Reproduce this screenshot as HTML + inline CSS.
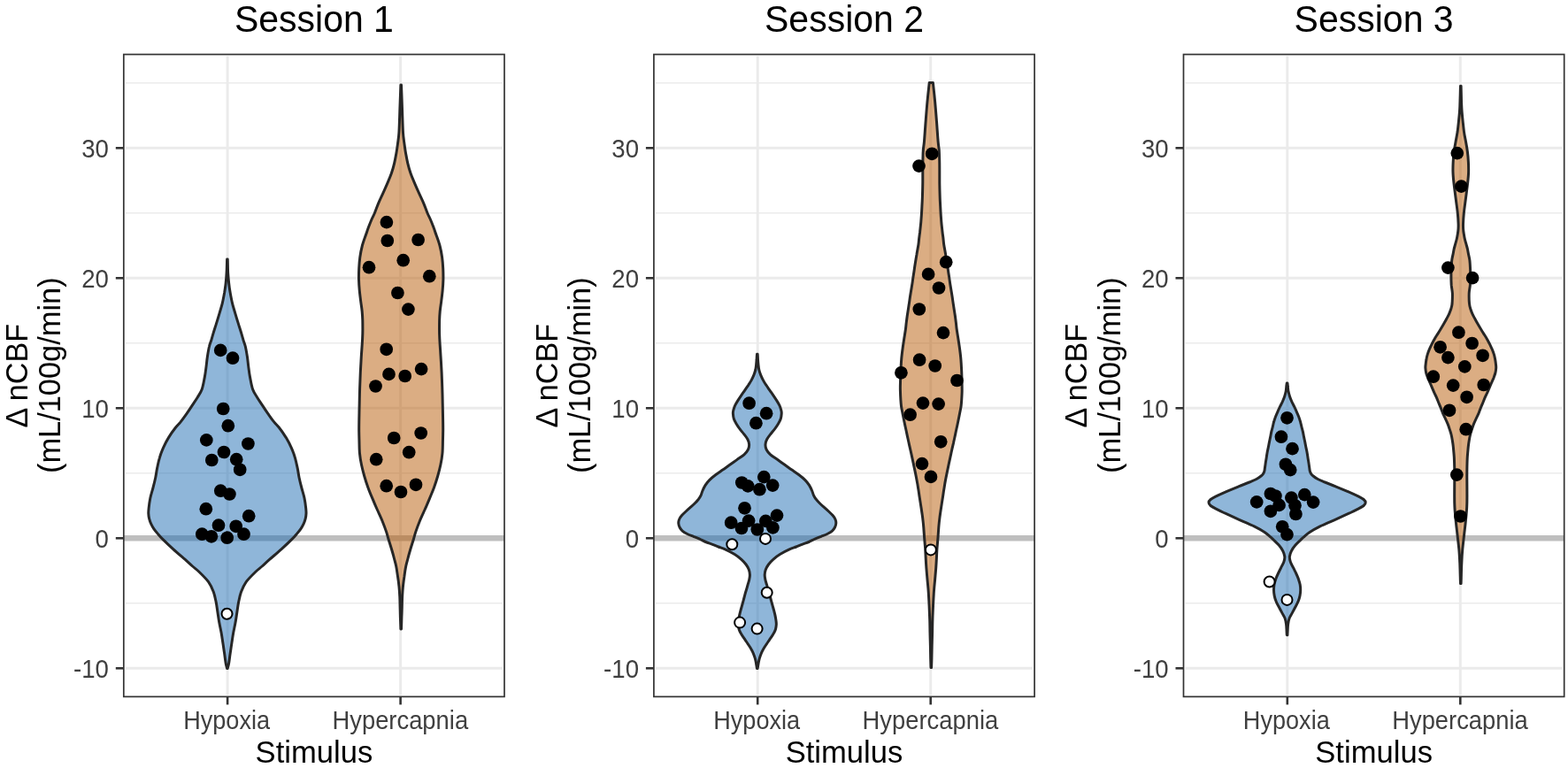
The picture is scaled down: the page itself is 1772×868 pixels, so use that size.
<!DOCTYPE html><html><head><meta charset="utf-8"><title>Violin plots</title>
<style>html,body{margin:0;padding:0;background:#fff;}svg{display:block;}text{font-family:"Liberation Sans",Arial,Helvetica,sans-serif;}</style></head><body>
<svg width="1772" height="868" viewBox="0 0 1772 868">
<rect x="0" y="0" width="1772" height="868" fill="#ffffff"/>
<line x1="141.8" y1="681.8" x2="568" y2="681.8" stroke="#ebebeb" stroke-width="1.6"/>
<line x1="141.8" y1="534.8" x2="568" y2="534.8" stroke="#ebebeb" stroke-width="1.6"/>
<line x1="141.8" y1="387.8" x2="568" y2="387.8" stroke="#ebebeb" stroke-width="1.6"/>
<line x1="141.8" y1="240.8" x2="568" y2="240.8" stroke="#ebebeb" stroke-width="1.6"/>
<line x1="141.8" y1="93.8" x2="568" y2="93.8" stroke="#ebebeb" stroke-width="1.6"/>
<line x1="141.8" y1="755.3" x2="568" y2="755.3" stroke="#ebebeb" stroke-width="3"/>
<line x1="141.8" y1="461.3" x2="568" y2="461.3" stroke="#ebebeb" stroke-width="3"/>
<line x1="141.8" y1="314.3" x2="568" y2="314.3" stroke="#ebebeb" stroke-width="3"/>
<line x1="141.8" y1="167.3" x2="568" y2="167.3" stroke="#ebebeb" stroke-width="3"/>
<line x1="257.1" y1="63.5" x2="257.1" y2="785.4" stroke="#ebebeb" stroke-width="3"/>
<line x1="452.6" y1="63.5" x2="452.6" y2="785.4" stroke="#ebebeb" stroke-width="3"/>
<line x1="139.8" y1="608.3" x2="570" y2="608.3" stroke="#bebebe" stroke-width="6.5"/>
<path d="M257.2,293.1C257.3,295.6 257.4,303.6 257.6,308C257.9,312.4 258.2,315.8 258.6,319.6C259,323.5 259.5,327.3 260.2,331.1C260.9,334.9 261.6,338.8 262.5,342.6C263.4,346.4 264.7,350.3 265.8,354.1C266.9,357.9 268.1,361.8 269.3,365.6C270.5,369.5 272,374.1 272.9,377.2C273.8,380.3 274.2,381.7 274.9,384.1C275.6,386.5 276.5,388.4 277.3,391.5C278,394.6 278.8,399.1 279.4,403C280,406.9 280.3,410.8 280.8,414.6C281.3,418.5 281.7,421.9 282.5,426.1C283.3,430.3 284.2,436.1 285.6,440C287,443.9 288.8,446.1 290.7,449.2C292.6,452.3 294.7,455.3 296.7,458.4C298.7,461.5 300.7,464.5 302.9,467.6C305.1,470.7 307.6,474.3 309.7,476.9C311.8,479.5 312.9,480.1 315.2,483C317.5,485.9 320.9,490.8 323.3,494.6C325.6,498.5 327.6,502.3 329.3,506.1C331,509.9 332.4,513.8 333.5,517.6C334.6,521.4 335.4,525.4 336.2,529.1C337,532.8 337.3,536.3 338.1,540C338.9,543.7 339.9,547.7 340.9,551.5C341.9,555.3 343.2,559.1 344,563C344.8,566.9 345.4,571.7 345.7,574.6C346,577.5 346.1,578.4 346,580.3C345.9,582.2 345.7,584.2 345.2,586.1C344.7,588 344.1,589.9 343.2,591.8C342.3,593.7 341.3,595.7 340,597.6C338.7,599.5 337,601.5 335.4,603.4C333.8,605.3 333.1,606.2 330.2,609.1C327.3,612 322.3,616.8 318.1,620.6C313.9,624.5 308.4,629 304.8,632.2C301.1,635.4 298.8,637.7 296.2,640C293.6,642.3 292.1,643.1 289.1,646C286.1,648.9 281,653.8 278.2,657.6C275.4,661.5 273.9,665.3 272.5,669.1C271.1,672.9 270.4,676.8 269.6,680.6C268.8,684.5 268.4,688.4 267.8,692.2C267.2,696.1 266.7,699.9 266,703.7C265.3,707.5 264.4,711.4 263.7,715.2C263,719 262.5,722.9 261.9,726.7C261.3,730.5 260.8,734.4 260.2,738.2C259.6,742.1 259.1,746.9 258.6,749.8C258.1,752.7 257.4,754.5 257.2,755.5L256.6,755.5C256.4,754.5 255.7,752.7 255.2,749.8C254.7,746.9 254.1,742.1 253.6,738.2C253,734.4 252.5,730.5 251.9,726.7C251.3,722.9 250.8,719 250.1,715.2C249.4,711.4 248.5,707.5 247.8,703.7C247.1,699.9 246.6,696.1 246,692.2C245.4,688.4 245,684.5 244.2,680.6C243.4,676.8 242.7,672.9 241.3,669.1C239.9,665.3 238.4,661.5 235.6,657.6C232.8,653.8 227.7,648.9 224.7,646C221.7,643.1 220.2,642.3 217.6,640C215,637.7 212.6,635.4 209,632.2C205.3,629 199.9,624.5 195.7,620.6C191.5,616.8 186.5,612 183.6,609.1C180.7,606.2 180,605.3 178.4,603.4C176.8,601.5 175.1,599.5 173.8,597.6C172.5,595.7 171.5,593.7 170.6,591.8C169.7,589.9 169.1,588 168.6,586.1C168.1,584.2 167.9,582.2 167.8,580.3C167.7,578.4 167.8,577.5 168.1,574.6C168.4,571.7 169,566.9 169.8,563C170.6,559.1 171.9,555.3 172.9,551.5C173.9,547.7 174.9,543.7 175.7,540C176.5,536.3 176.8,532.8 177.6,529.1C178.4,525.4 179.1,521.4 180.3,517.6C181.4,513.8 182.8,509.9 184.5,506.1C186.2,502.3 188.1,498.5 190.5,494.6C192.8,490.8 196.3,485.9 198.6,483C200.9,480.1 202,479.5 204.1,476.9C206.1,474.3 208.7,470.7 210.9,467.6C213.1,464.5 215.1,461.5 217.1,458.4C219.1,455.3 221.2,452.3 223.1,449.2C224.9,446.1 226.8,443.9 228.2,440C229.6,436.1 230.5,430.3 231.3,426.1C232.1,421.9 232.5,418.5 233,414.6C233.5,410.8 233.8,406.9 234.4,403C235,399.1 235.7,394.6 236.5,391.5C237.2,388.4 238.2,386.5 238.9,384.1C239.6,381.7 240,380.3 240.9,377.2C241.8,374.1 243.3,369.5 244.5,365.6C245.7,361.8 246.9,357.9 248,354.1C249.1,350.3 250.4,346.4 251.3,342.6C252.2,338.8 252.9,334.9 253.6,331.1C254.2,327.3 254.8,323.5 255.2,319.6C255.6,315.8 255.9,312.4 256.1,308C256.4,303.6 256.5,295.6 256.6,293.1Z" fill="#1f6db4" fill-opacity="0.5" stroke="#262626" stroke-width="3.0" stroke-linejoin="round"/>
<path d="M453.5,96.1C453.7,101.1 454.3,117.1 454.6,126.1C454.9,135.1 455.1,144.1 455.5,150C455.9,155.9 456.3,157.7 456.8,161.5C457.3,165.3 457.8,169.2 458.5,173C459.2,176.8 459.9,180.8 460.8,184.6C461.7,188.4 462.8,192.3 464.1,196.1C465.4,199.9 467.2,203.8 468.8,207.6C470.4,211.4 472.2,215.3 473.9,219.1C475.6,222.9 477.6,227 479.1,230.6C480.6,234.2 481.8,237.8 483,240.7C484.2,243.6 485.2,245.2 486.4,248C487.6,250.8 489,254.4 490.1,257.3C491.2,260.2 491.7,261.9 492.9,265.3C494.1,268.8 496,273.8 497.1,278C498.2,282.2 499,286.5 499.6,290.7C500.2,294.9 500.5,299.2 500.7,303.4C500.9,307.6 501,311.8 500.9,316C500.8,320.2 500.5,324.5 500.1,328.7C499.7,332.9 499.1,337.5 498.6,341.4C498.1,345.3 497.5,348.6 497.2,352C496.9,355.4 496.7,358.7 496.6,362C496.5,365.3 496.5,368.5 496.5,372C496.5,375.5 496.6,379.1 496.8,383C497,386.9 497.3,391.5 497.6,395.7C497.9,399.9 498.1,404.2 498.4,408.4C498.6,412.6 498.9,416.8 499.1,421C499.3,425.2 499.4,429.5 499.6,433.7C499.8,437.9 499.9,442.7 500,446.4C500.1,450.1 500.1,452.1 500.2,456C500.3,459.9 500.4,465.2 500.5,470C500.6,474.8 500.7,480 500.7,485C500.7,490 500.5,495.4 500.4,500C500.3,504.6 500.3,508.5 499.9,512.7C499.5,516.9 498.8,521.1 497.9,525.3C497,529.5 495.9,533.8 494.7,538C493.5,542.2 492.1,546.5 490.6,550.7C489.1,554.9 487.2,559.2 485.5,563.4C483.8,567.6 481.9,571.8 480.1,576C478.2,580.2 476.1,584.5 474.4,588.7C472.7,592.9 470.8,598 469.7,601.4C468.6,604.8 468.5,605.7 467.5,609C466.5,612.3 464.8,617.6 463.7,621.3C462.6,625 461.8,627.9 461,631C460.2,634.1 459.4,636.6 458.7,640C458,643.4 457.4,647.7 456.9,651.5C456.3,655.3 455.8,659.1 455.4,663C455,666.9 454.8,670.8 454.6,674.6C454.4,678.5 454.4,682.3 454.3,686.1C454.2,689.9 454.1,693.5 453.9,697.6C453.8,701.7 453.6,708.7 453.5,710.9L452.9,710.9C452.8,708.7 452.6,701.7 452.4,697.6C452.3,693.5 452.2,689.9 452.1,686.1C452,682.3 452,678.5 451.8,674.6C451.6,670.8 451.4,666.9 451,663C450.6,659.1 450.1,655.3 449.5,651.5C448.9,647.7 448.4,643.4 447.7,640C447,636.6 446.2,634.1 445.4,631C444.6,627.9 443.8,625 442.7,621.3C441.6,617.6 439.9,612.3 438.9,609C437.9,605.7 437.8,604.8 436.7,601.4C435.6,598 433.7,592.9 432,588.7C430.3,584.5 428.2,580.2 426.3,576C424.4,571.8 422.6,567.6 420.9,563.4C419.1,559.2 417.3,554.9 415.8,550.7C414.3,546.5 412.9,542.2 411.7,538C410.5,533.8 409.4,529.5 408.5,525.3C407.6,521.1 406.9,516.9 406.5,512.7C406.1,508.5 406.1,504.6 406,500C405.9,495.4 405.7,490 405.7,485C405.7,480 405.8,474.8 405.9,470C406,465.2 406.1,459.9 406.2,456C406.3,452.1 406.3,450.1 406.4,446.4C406.5,442.7 406.6,437.9 406.8,433.7C407,429.5 407.1,425.2 407.3,421C407.5,416.8 407.8,412.6 408,408.4C408.2,404.2 408.5,399.9 408.8,395.7C409.1,391.5 409.4,386.9 409.6,383C409.8,379.1 409.9,375.5 409.9,372C409.9,368.5 409.9,365.3 409.8,362C409.7,358.7 409.5,355.4 409.2,352C408.9,348.6 408.3,345.3 407.8,341.4C407.3,337.5 406.7,332.9 406.3,328.7C405.9,324.5 405.6,320.2 405.5,316C405.4,311.8 405.5,307.6 405.7,303.4C405.9,299.2 406.2,294.9 406.8,290.7C407.4,286.5 408.2,282.2 409.3,278C410.4,273.8 412.3,268.8 413.5,265.3C414.7,261.9 415.2,260.2 416.3,257.3C417.4,254.4 418.8,250.8 420,248C421.2,245.2 422.2,243.6 423.4,240.7C424.6,237.8 425.8,234.2 427.3,230.6C428.8,227 430.8,222.9 432.5,219.1C434.2,215.3 436,211.4 437.6,207.6C439.2,203.8 441,199.9 442.3,196.1C443.6,192.3 444.7,188.4 445.6,184.6C446.5,180.8 447.2,176.8 447.9,173C448.6,169.2 449.1,165.3 449.6,161.5C450.1,157.7 450.5,155.9 450.9,150C451.3,144.1 451.5,135.1 451.8,126.1C452.1,117.1 452.7,101.1 452.9,96.1Z" fill="#b85c08" fill-opacity="0.5" stroke="#262626" stroke-width="3.0" stroke-linejoin="round"/>
<circle cx="249.2" cy="395.9" r="7.35" fill="#000"/>
<circle cx="263" cy="404.7" r="7.35" fill="#000"/>
<circle cx="252.2" cy="462" r="7.35" fill="#000"/>
<circle cx="257.8" cy="481.2" r="7.35" fill="#000"/>
<circle cx="233.3" cy="497.4" r="7.35" fill="#000"/>
<circle cx="280.4" cy="501.5" r="7.35" fill="#000"/>
<circle cx="253" cy="511" r="7.35" fill="#000"/>
<circle cx="239.3" cy="520" r="7.35" fill="#000"/>
<circle cx="267.2" cy="519.2" r="7.35" fill="#000"/>
<circle cx="271.2" cy="530.8" r="7.35" fill="#000"/>
<circle cx="249.3" cy="554.7" r="7.35" fill="#000"/>
<circle cx="259.4" cy="558.5" r="7.35" fill="#000"/>
<circle cx="232.8" cy="575.2" r="7.35" fill="#000"/>
<circle cx="281.2" cy="583.2" r="7.35" fill="#000"/>
<circle cx="247" cy="593.7" r="7.35" fill="#000"/>
<circle cx="266.7" cy="594.8" r="7.35" fill="#000"/>
<circle cx="228.3" cy="603.7" r="7.35" fill="#000"/>
<circle cx="238.9" cy="606.3" r="7.35" fill="#000"/>
<circle cx="256.7" cy="607.7" r="7.35" fill="#000"/>
<circle cx="275.5" cy="603.7" r="7.35" fill="#000"/>
<circle cx="256.5" cy="693.8" r="6.0" fill="#fff" stroke="#000" stroke-width="2.0"/>
<circle cx="436.9" cy="251.1" r="7.35" fill="#000"/>
<circle cx="437.8" cy="272" r="7.35" fill="#000"/>
<circle cx="472.6" cy="271" r="7.35" fill="#000"/>
<circle cx="455.7" cy="294.2" r="7.35" fill="#000"/>
<circle cx="417" cy="302.2" r="7.35" fill="#000"/>
<circle cx="485.3" cy="312.2" r="7.35" fill="#000"/>
<circle cx="449.4" cy="331" r="7.35" fill="#000"/>
<circle cx="461.4" cy="349.6" r="7.35" fill="#000"/>
<circle cx="436.7" cy="394.8" r="7.35" fill="#000"/>
<circle cx="476.1" cy="417.1" r="7.35" fill="#000"/>
<circle cx="439.5" cy="422.9" r="7.35" fill="#000"/>
<circle cx="457.7" cy="425" r="7.35" fill="#000"/>
<circle cx="424.5" cy="436.5" r="7.35" fill="#000"/>
<circle cx="445.2" cy="495" r="7.35" fill="#000"/>
<circle cx="475.7" cy="489.5" r="7.35" fill="#000"/>
<circle cx="462.2" cy="511.2" r="7.35" fill="#000"/>
<circle cx="425.2" cy="519.2" r="7.35" fill="#000"/>
<circle cx="436.7" cy="549.2" r="7.35" fill="#000"/>
<circle cx="453" cy="556" r="7.35" fill="#000"/>
<circle cx="470" cy="547.8" r="7.35" fill="#000"/>
<rect x="139.8" y="61.5" width="430.2" height="725.9" fill="none" stroke="#333333" stroke-width="1.7"/>
<line x1="130.8" y1="755.3" x2="139.8" y2="755.3" stroke="#333333" stroke-width="2.6"/>
<text transform="translate(122.9,765.9) scale(1,1.045)" font-size="27.6" fill="#3f3f3f" text-anchor="end">-10</text>
<line x1="130.8" y1="608.3" x2="139.8" y2="608.3" stroke="#333333" stroke-width="2.6"/>
<text transform="translate(122.9,618.9) scale(1,1.045)" font-size="27.6" fill="#3f3f3f" text-anchor="end">0</text>
<line x1="130.8" y1="461.3" x2="139.8" y2="461.3" stroke="#333333" stroke-width="2.6"/>
<text transform="translate(122.9,471.9) scale(1,1.045)" font-size="27.6" fill="#3f3f3f" text-anchor="end">10</text>
<line x1="130.8" y1="314.3" x2="139.8" y2="314.3" stroke="#333333" stroke-width="2.6"/>
<text transform="translate(122.9,324.9) scale(1,1.045)" font-size="27.6" fill="#3f3f3f" text-anchor="end">20</text>
<line x1="130.8" y1="167.3" x2="139.8" y2="167.3" stroke="#333333" stroke-width="2.6"/>
<text transform="translate(122.9,177.9) scale(1,1.045)" font-size="27.6" fill="#3f3f3f" text-anchor="end">30</text>
<line x1="257.1" y1="787.4" x2="257.1" y2="796.4" stroke="#333333" stroke-width="2.6"/>
<text transform="translate(256.1,823.8) scale(1,1.045)" font-size="27.6" fill="#3f3f3f" text-anchor="middle" textLength="97.9" lengthAdjust="spacingAndGlyphs">Hypoxia</text>
<line x1="452.6" y1="787.4" x2="452.6" y2="796.4" stroke="#333333" stroke-width="2.6"/>
<text transform="translate(452.3,823.8) scale(1,1.045)" font-size="27.6" fill="#3f3f3f" text-anchor="middle" textLength="153.6" lengthAdjust="spacingAndGlyphs">Hypercapnia</text>
<text transform="translate(354.9,862) scale(1,1.045)" font-size="33.6" fill="#000" text-anchor="middle" textLength="132.7" lengthAdjust="spacingAndGlyphs">Stimulus</text>
<text transform="translate(30.7,425.9) rotate(-90) scale(1,1.045)" font-size="33.6" fill="#000" text-anchor="middle"><tspan x="1.2" y="0" textLength="117.8" lengthAdjust="spacingAndGlyphs">Δ nCBF</tspan><tspan x="1.7" y="35.8" textLength="221.7" lengthAdjust="spacingAndGlyphs">(mL/100g/min)</tspan></text>
<text transform="translate(354.9,35.6) scale(1,1.045)" font-size="41" fill="#000" text-anchor="middle">Session 1</text>
<line x1="740.9" y1="681.8" x2="1167.1" y2="681.8" stroke="#ebebeb" stroke-width="1.6"/>
<line x1="740.9" y1="534.8" x2="1167.1" y2="534.8" stroke="#ebebeb" stroke-width="1.6"/>
<line x1="740.9" y1="387.8" x2="1167.1" y2="387.8" stroke="#ebebeb" stroke-width="1.6"/>
<line x1="740.9" y1="240.8" x2="1167.1" y2="240.8" stroke="#ebebeb" stroke-width="1.6"/>
<line x1="740.9" y1="93.8" x2="1167.1" y2="93.8" stroke="#ebebeb" stroke-width="1.6"/>
<line x1="740.9" y1="755.3" x2="1167.1" y2="755.3" stroke="#ebebeb" stroke-width="3"/>
<line x1="740.9" y1="461.3" x2="1167.1" y2="461.3" stroke="#ebebeb" stroke-width="3"/>
<line x1="740.9" y1="314.3" x2="1167.1" y2="314.3" stroke="#ebebeb" stroke-width="3"/>
<line x1="740.9" y1="167.3" x2="1167.1" y2="167.3" stroke="#ebebeb" stroke-width="3"/>
<line x1="856.2" y1="63.5" x2="856.2" y2="785.4" stroke="#ebebeb" stroke-width="3"/>
<line x1="1051.7" y1="63.5" x2="1051.7" y2="785.4" stroke="#ebebeb" stroke-width="3"/>
<line x1="738.9" y1="608.3" x2="1169.1" y2="608.3" stroke="#bebebe" stroke-width="6.5"/>
<path d="M856.1,400.2C856.2,401.2 856.4,404.5 856.5,406.5C856.6,408.5 856.8,410.4 857,412.3C857.2,414.2 857.3,416.1 857.8,418C858.2,419.9 858.9,421.9 859.7,423.8C860.5,425.7 861.4,427.7 862.4,429.6C863.4,431.5 864.6,433.4 865.9,435.3C867.1,437.2 868.6,439.2 869.9,441.1C871.2,443 872.6,444.9 873.9,446.8C875.2,448.7 876.5,450.7 877.7,452.6C878.9,454.5 880.1,456.5 881,458.4C881.9,460.3 882.5,462.6 882.9,464.1C883.3,465.6 883.3,466.1 883.2,467.6C883.1,469.1 882.9,471.4 882.3,473.3C881.7,475.2 880.6,477.2 879.5,479.1C878.4,481 877,483 875.5,484.9C874,486.8 872.3,488.8 870.8,490.7C869.3,492.6 867.7,494.6 866.7,496.5C865.7,498.4 865.1,500.4 865,502.3C864.9,504.2 865.1,506.1 866.1,508C867,509.9 868.6,511.9 870.7,513.8C872.8,515.7 876.1,517.7 878.8,519.6C881.5,521.5 884.1,523.4 886.8,525.3C889.5,527.2 892.2,529.2 894.9,531.1C897.6,533 900.5,534.9 903,536.8C905.5,538.7 908,540.7 909.9,542.6C911.8,544.5 913.2,546.3 914.5,548.4C915.8,550.5 917,553.1 917.8,555C918.6,556.9 918.7,558.1 919.4,559.6C920.1,561.1 921,562.7 922.2,564.2C923.3,565.7 924.8,567.3 926.3,568.8C927.8,570.3 929.7,571.9 931.4,573.4C933.1,574.9 934.9,576.5 936.5,578C938.1,579.5 939.8,581.1 941.1,582.6C942.4,584.1 943.5,585.8 944.1,587.3C944.7,588.8 944.9,590 944.8,591.5C944.7,593 944.2,594.6 943.5,596C942.8,597.4 941.8,598.9 940.4,600.1C939,601.4 937,602.5 934.9,603.5C932.8,604.5 930.3,605.4 928,606.3C925.7,607.2 923.3,608.1 921,609.1C918.7,610.1 916.5,611.5 914.1,612.5C911.6,613.5 908.7,614.4 906.3,615.3C903.9,616.2 902.2,617.1 899.8,618C897.4,618.9 895.2,619.4 892.1,620.8C889,622.2 884.5,624.6 881.4,626.5C878.3,628.4 875.8,630.4 873.7,632.3C871.5,634.2 869.9,636.1 868.5,638C867.1,639.9 866,641.9 865.3,643.8C864.6,645.7 864.3,647.7 864.2,649.6C864.1,651.5 864.5,653.4 864.9,655.3C865.3,657.2 866,659.2 866.6,661.1C867.1,663 867.6,664.9 868.2,666.8C868.8,668.7 869.4,670.7 869.9,672.6C870.4,674.5 870.9,676.5 871.4,678.4C871.9,680.3 872.5,682.2 873,684.1C873.5,686 874.1,688 874.6,689.9C875.1,691.8 875.6,693.7 876,695.6C876.4,697.5 876.8,699.7 877,701.4C877.2,703.1 877.4,704.4 877.3,706C877.2,707.6 876.9,709.6 876.5,711.1C876.1,712.6 875.4,713.9 874.7,715.2C874,716.6 873.2,717.9 872.3,719.2C871.4,720.5 870.4,721.9 869.5,723.2C868.6,724.6 867.6,725.9 866.7,727.3C865.8,728.6 864.9,730 864.1,731.3C863.3,732.6 862.5,733.9 861.8,735.3C861.1,736.6 860.4,738 859.9,739.4C859.4,740.8 858.9,742.1 858.5,743.4C858.1,744.7 857.8,746 857.5,747.4C857.2,748.8 857,750.1 856.8,751.5C856.6,752.9 856.2,754.8 856.1,755.5L855.5,755.5C855.4,754.8 855,752.9 854.8,751.5C854.6,750.1 854.4,748.8 854.1,747.4C853.8,746 853.5,744.7 853.1,743.4C852.7,742.1 852.2,740.8 851.7,739.4C851.1,738 850.5,736.6 849.8,735.3C849.1,733.9 848.3,732.6 847.5,731.3C846.7,730 845.8,728.6 844.9,727.3C844,725.9 843,724.6 842.1,723.2C841.2,721.9 840.2,720.5 839.3,719.2C838.4,717.9 837.6,716.6 836.9,715.2C836.2,713.9 835.5,712.6 835.1,711.1C834.7,709.6 834.4,707.6 834.3,706C834.2,704.4 834.4,703.1 834.6,701.4C834.8,699.7 835.2,697.5 835.6,695.6C836,693.7 836.5,691.8 837,689.9C837.5,688 838.1,686 838.6,684.1C839.1,682.2 839.7,680.3 840.2,678.4C840.7,676.5 841.2,674.5 841.7,672.6C842.2,670.7 842.8,668.7 843.4,666.8C844,664.9 844.5,663 845,661.1C845.5,659.2 846.3,657.2 846.7,655.3C847.1,653.4 847.5,651.5 847.4,649.6C847.3,647.7 847,645.7 846.3,643.8C845.6,641.9 844.5,639.9 843.1,638C841.7,636.1 840,634.2 837.9,632.3C835.8,630.4 833.3,628.4 830.2,626.5C827.1,624.6 822.6,622.2 819.5,620.8C816.4,619.4 814.2,618.9 811.8,618C809.4,617.1 807.7,616.2 805.3,615.3C802.9,614.4 800,613.5 797.5,612.5C795,611.5 792.9,610.1 790.6,609.1C788.3,608.1 785.9,607.2 783.6,606.3C781.3,605.4 778.8,604.5 776.7,603.5C774.6,602.5 772.6,601.4 771.2,600.1C769.8,598.9 768.8,597.4 768.1,596C767.4,594.6 766.9,593 766.8,591.5C766.7,590 766.9,588.8 767.5,587.3C768.1,585.8 769.2,584.1 770.5,582.6C771.8,581.1 773.5,579.5 775.1,578C776.7,576.5 778.5,574.9 780.2,573.4C781.9,571.9 783.8,570.3 785.3,568.8C786.8,567.3 788.2,565.7 789.4,564.2C790.5,562.7 791.5,561.1 792.2,559.6C792.9,558.1 793,556.9 793.8,555C794.6,553.1 795.8,550.5 797.1,548.4C798.4,546.3 799.8,544.5 801.7,542.6C803.6,540.7 806.1,538.7 808.6,536.8C811.1,534.9 814,533 816.7,531.1C819.4,529.2 822.1,527.2 824.8,525.3C827.5,523.4 830.1,521.5 832.8,519.6C835.5,517.7 838.8,515.7 840.9,513.8C843,511.9 844.5,509.9 845.5,508C846.5,506.1 846.7,504.2 846.6,502.3C846.5,500.4 845.9,498.4 844.9,496.5C843.9,494.6 842.3,492.6 840.8,490.7C839.3,488.8 837.5,486.8 836.1,484.9C834.6,483 833.2,481 832.1,479.1C831,477.2 829.9,475.2 829.3,473.3C828.7,471.4 828.5,469.1 828.4,467.6C828.3,466.1 828.3,465.6 828.7,464.1C829.1,462.6 829.7,460.3 830.6,458.4C831.5,456.5 832.7,454.5 833.9,452.6C835.1,450.7 836.4,448.7 837.7,446.8C839,444.9 840.4,443 841.7,441.1C843,439.2 844.4,437.2 845.7,435.3C846.9,433.4 848.2,431.5 849.2,429.6C850.2,427.7 851.1,425.7 851.9,423.8C852.7,421.9 853.3,419.9 853.8,418C854.2,416.1 854.4,414.2 854.6,412.3C854.8,410.4 854.9,408.5 855.1,406.5C855.2,404.5 855.4,401.2 855.5,400.2Z" fill="#1f6db4" fill-opacity="0.5" stroke="#262626" stroke-width="3.0" stroke-linejoin="round"/>
<path d="M1054.4,93.6C1054.8,97.1 1055.9,107.3 1056.6,114.6C1057.3,121.9 1057.9,129.9 1058.5,137.6C1059.1,145.3 1059.7,155.2 1060.2,160.6C1060.7,166 1061,166.5 1061.3,170C1061.5,173.5 1061.6,177.7 1061.7,181.5C1061.8,185.3 1061.8,189.2 1061.8,193C1061.8,196.8 1061.8,200.8 1061.8,204.6C1061.8,208.4 1061.9,212.3 1062,216.1C1062.1,219.9 1062.2,223.8 1062.4,227.6C1062.6,231.4 1062.8,235.3 1063,239.1C1063.2,242.9 1063.5,246.8 1063.8,250.6C1064.1,254.4 1064.7,259.1 1065,262.2C1065.3,265.3 1065.6,266.6 1065.9,269C1066.2,271.4 1066.2,273.3 1066.7,276.5C1067.2,279.7 1068.1,284.1 1068.7,288C1069.3,291.9 1070,295.8 1070.6,299.6C1071.2,303.5 1071.7,307.3 1072.3,311.1C1072.9,314.9 1073.4,318.8 1074,322.6C1074.6,326.4 1075.3,330.3 1075.9,334.1C1076.5,337.9 1077,341.8 1077.6,345.6C1078.2,349.5 1078.9,354.1 1079.4,357.2C1079.8,360.3 1080,361.7 1080.3,364.1C1080.6,366.5 1080.7,368.4 1081.1,371.5C1081.5,374.6 1082.3,379.1 1082.9,383C1083.5,386.9 1084.1,390.8 1084.6,394.6C1085.1,398.5 1085.6,402.3 1085.9,406.1C1086.2,409.9 1086.4,413.8 1086.6,417.6C1086.8,421.4 1086.9,425.3 1087,429.1C1087.1,432.9 1087.2,436.8 1087.2,440.6C1087.2,444.5 1086.9,449.1 1086.7,452.2C1086.5,455.3 1086.4,456.6 1086.1,459C1085.8,461.4 1085.3,463.3 1084.7,466.5C1084.1,469.7 1083.2,474.1 1082.4,478C1081.6,481.9 1080.7,485.8 1079.9,489.6C1079.1,493.5 1078.2,497.3 1077.4,501.1C1076.5,504.9 1075.6,508.8 1074.8,512.6C1074,516.4 1073.1,520.3 1072.3,524.1C1071.5,527.9 1070.7,531.8 1069.9,535.6C1069.1,539.5 1068.2,544.1 1067.7,547.2C1067.2,550.3 1067,551.7 1066.6,554.1C1066.2,556.5 1066,558.4 1065.5,561.5C1065,564.6 1064.3,569.1 1063.7,573C1063.1,576.9 1062.5,580.8 1062,584.6C1061.5,588.5 1061.1,592.3 1060.8,596.1C1060.5,599.9 1060.3,603.8 1060,607.6C1059.7,611.4 1059.3,615.3 1059,619.1C1058.7,622.9 1058.6,626.8 1058.4,630.6C1058.2,634.5 1058,638.1 1057.7,642.2C1057.4,646.3 1057,650.4 1056.6,655C1056.2,659.6 1055.6,665 1055.3,670C1055,675 1054.7,679.9 1054.5,684.9C1054.3,689.9 1054,694.9 1053.9,699.9C1053.7,704.9 1053.7,709.9 1053.6,714.9C1053.5,719.9 1053.3,724.8 1053.2,729.8C1053.1,734.8 1053,740.7 1052.9,744.8C1052.8,748.9 1052.6,752.9 1052.6,754.5L1052,754.5C1052,752.9 1051.8,748.9 1051.7,744.8C1051.6,740.7 1051.5,734.8 1051.4,729.8C1051.3,724.8 1051.1,719.9 1051,714.9C1050.9,709.9 1050.9,704.9 1050.7,699.9C1050.5,694.9 1050.3,689.9 1050.1,684.9C1049.9,679.9 1049.6,675 1049.3,670C1049,665 1048.4,659.6 1048,655C1047.6,650.4 1047.2,646.3 1046.9,642.2C1046.6,638.1 1046.4,634.5 1046.2,630.6C1046,626.8 1045.9,622.9 1045.6,619.1C1045.3,615.3 1044.9,611.4 1044.6,607.6C1044.3,603.8 1044.1,599.9 1043.8,596.1C1043.5,592.3 1043.1,588.5 1042.6,584.6C1042.1,580.8 1041.5,576.9 1040.9,573C1040.3,569.1 1039.6,564.6 1039.1,561.5C1038.6,558.4 1038.4,556.5 1038,554.1C1037.6,551.7 1037.4,550.3 1036.9,547.2C1036.3,544.1 1035.5,539.5 1034.7,535.6C1033.9,531.8 1033.1,527.9 1032.3,524.1C1031.5,520.3 1030.6,516.4 1029.8,512.6C1029,508.8 1028,504.9 1027.2,501.1C1026.4,497.3 1025.5,493.5 1024.7,489.6C1023.9,485.8 1023,481.9 1022.2,478C1021.4,474.1 1020.5,469.7 1019.9,466.5C1019.3,463.3 1018.8,461.4 1018.5,459C1018.2,456.6 1018.1,455.3 1017.9,452.2C1017.7,449.1 1017.5,444.5 1017.4,440.6C1017.3,436.8 1017.5,432.9 1017.6,429.1C1017.7,425.3 1017.8,421.4 1018,417.6C1018.2,413.8 1018.4,409.9 1018.7,406.1C1019,402.3 1019.5,398.5 1020,394.6C1020.5,390.8 1021.1,386.9 1021.7,383C1022.3,379.1 1023.1,374.6 1023.5,371.5C1023.9,368.4 1024,366.5 1024.3,364.1C1024.6,361.7 1024.8,360.3 1025.2,357.2C1025.7,354.1 1026.4,349.5 1027,345.6C1027.6,341.8 1028.1,337.9 1028.7,334.1C1029.3,330.3 1030,326.4 1030.6,322.6C1031.2,318.8 1031.7,314.9 1032.3,311.1C1032.9,307.3 1033.4,303.5 1034,299.6C1034.6,295.8 1035.2,291.9 1035.9,288C1036.5,284.1 1037.4,279.7 1037.9,276.5C1038.4,273.3 1038.4,271.4 1038.7,269C1039,266.6 1039.2,265.3 1039.6,262.2C1039.9,259.1 1040.5,254.4 1040.8,250.6C1041.1,246.8 1041.4,242.9 1041.6,239.1C1041.8,235.3 1042,231.4 1042.2,227.6C1042.4,223.8 1042.5,219.9 1042.6,216.1C1042.7,212.3 1042.8,208.4 1042.8,204.6C1042.8,200.8 1042.8,196.8 1042.8,193C1042.8,189.2 1042.8,185.3 1042.9,181.5C1043,177.7 1043,173.5 1043.3,170C1043.5,166.5 1043.9,166 1044.4,160.6C1044.9,155.2 1045.5,145.3 1046.1,137.6C1046.7,129.9 1047.3,121.9 1048,114.6C1048.7,107.3 1049.8,97.1 1050.2,93.6Z" fill="#b85c08" fill-opacity="0.5" stroke="#262626" stroke-width="3.0" stroke-linejoin="round"/>
<circle cx="846.6" cy="455.7" r="7.35" fill="#000"/>
<circle cx="866.1" cy="467.2" r="7.35" fill="#000"/>
<circle cx="854.4" cy="478.2" r="7.35" fill="#000"/>
<circle cx="838.3" cy="545.5" r="7.35" fill="#000"/>
<circle cx="845.2" cy="549.4" r="7.35" fill="#000"/>
<circle cx="863.3" cy="539.1" r="7.35" fill="#000"/>
<circle cx="873.2" cy="548.6" r="7.35" fill="#000"/>
<circle cx="858.4" cy="553.2" r="7.35" fill="#000"/>
<circle cx="841.5" cy="574.3" r="7.35" fill="#000"/>
<circle cx="878" cy="582.6" r="7.35" fill="#000"/>
<circle cx="826.2" cy="590.7" r="7.35" fill="#000"/>
<circle cx="846.1" cy="588.6" r="7.35" fill="#000"/>
<circle cx="865.3" cy="588.9" r="7.35" fill="#000"/>
<circle cx="838" cy="597" r="7.35" fill="#000"/>
<circle cx="855.8" cy="598.5" r="7.35" fill="#000"/>
<circle cx="873.4" cy="596.4" r="7.35" fill="#000"/>
<circle cx="827.3" cy="615.2" r="6.0" fill="#fff" stroke="#000" stroke-width="2.0"/>
<circle cx="865" cy="608.9" r="6.0" fill="#fff" stroke="#000" stroke-width="2.0"/>
<circle cx="866.7" cy="669.8" r="6.0" fill="#fff" stroke="#000" stroke-width="2.0"/>
<circle cx="836.1" cy="703.6" r="6.0" fill="#fff" stroke="#000" stroke-width="2.0"/>
<circle cx="855.6" cy="710.6" r="6.0" fill="#fff" stroke="#000" stroke-width="2.0"/>
<circle cx="1053.2" cy="173.8" r="7.35" fill="#000"/>
<circle cx="1038.5" cy="187.6" r="7.35" fill="#000"/>
<circle cx="1069.2" cy="296.2" r="7.35" fill="#000"/>
<circle cx="1049.1" cy="309.9" r="7.35" fill="#000"/>
<circle cx="1061" cy="325.5" r="7.35" fill="#000"/>
<circle cx="1038.8" cy="349.5" r="7.35" fill="#000"/>
<circle cx="1066" cy="376.1" r="7.35" fill="#000"/>
<circle cx="1039.1" cy="406.7" r="7.35" fill="#000"/>
<circle cx="1056.7" cy="413.5" r="7.35" fill="#000"/>
<circle cx="1018.4" cy="421.3" r="7.35" fill="#000"/>
<circle cx="1081.5" cy="430" r="7.35" fill="#000"/>
<circle cx="1043" cy="455.6" r="7.35" fill="#000"/>
<circle cx="1060.6" cy="456.6" r="7.35" fill="#000"/>
<circle cx="1028.6" cy="468.7" r="7.35" fill="#000"/>
<circle cx="1063.2" cy="499.3" r="7.35" fill="#000"/>
<circle cx="1042" cy="524.1" r="7.35" fill="#000"/>
<circle cx="1052" cy="538.9" r="7.35" fill="#000"/>
<circle cx="1051.9" cy="621.4" r="6.0" fill="#fff" stroke="#000" stroke-width="2.0"/>
<rect x="738.9" y="61.5" width="430.2" height="725.9" fill="none" stroke="#333333" stroke-width="1.7"/>
<line x1="729.9" y1="755.3" x2="738.9" y2="755.3" stroke="#333333" stroke-width="2.6"/>
<text transform="translate(722,765.9) scale(1,1.045)" font-size="27.6" fill="#3f3f3f" text-anchor="end">-10</text>
<line x1="729.9" y1="608.3" x2="738.9" y2="608.3" stroke="#333333" stroke-width="2.6"/>
<text transform="translate(722,618.9) scale(1,1.045)" font-size="27.6" fill="#3f3f3f" text-anchor="end">0</text>
<line x1="729.9" y1="461.3" x2="738.9" y2="461.3" stroke="#333333" stroke-width="2.6"/>
<text transform="translate(722,471.9) scale(1,1.045)" font-size="27.6" fill="#3f3f3f" text-anchor="end">10</text>
<line x1="729.9" y1="314.3" x2="738.9" y2="314.3" stroke="#333333" stroke-width="2.6"/>
<text transform="translate(722,324.9) scale(1,1.045)" font-size="27.6" fill="#3f3f3f" text-anchor="end">20</text>
<line x1="729.9" y1="167.3" x2="738.9" y2="167.3" stroke="#333333" stroke-width="2.6"/>
<text transform="translate(722,177.9) scale(1,1.045)" font-size="27.6" fill="#3f3f3f" text-anchor="end">30</text>
<line x1="856.2" y1="787.4" x2="856.2" y2="796.4" stroke="#333333" stroke-width="2.6"/>
<text transform="translate(855.2,823.8) scale(1,1.045)" font-size="27.6" fill="#3f3f3f" text-anchor="middle" textLength="97.9" lengthAdjust="spacingAndGlyphs">Hypoxia</text>
<line x1="1051.7" y1="787.4" x2="1051.7" y2="796.4" stroke="#333333" stroke-width="2.6"/>
<text transform="translate(1051.4,823.8) scale(1,1.045)" font-size="27.6" fill="#3f3f3f" text-anchor="middle" textLength="153.6" lengthAdjust="spacingAndGlyphs">Hypercapnia</text>
<text transform="translate(954,862) scale(1,1.045)" font-size="33.6" fill="#000" text-anchor="middle" textLength="132.7" lengthAdjust="spacingAndGlyphs">Stimulus</text>
<text transform="translate(629.8,425.9) rotate(-90) scale(1,1.045)" font-size="33.6" fill="#000" text-anchor="middle"><tspan x="1.2" y="0" textLength="117.8" lengthAdjust="spacingAndGlyphs">Δ nCBF</tspan><tspan x="1.7" y="35.8" textLength="221.7" lengthAdjust="spacingAndGlyphs">(mL/100g/min)</tspan></text>
<text transform="translate(954,35.6) scale(1,1.045)" font-size="41" fill="#000" text-anchor="middle">Session 2</text>
<line x1="1339.5" y1="681.8" x2="1765.7" y2="681.8" stroke="#ebebeb" stroke-width="1.6"/>
<line x1="1339.5" y1="534.8" x2="1765.7" y2="534.8" stroke="#ebebeb" stroke-width="1.6"/>
<line x1="1339.5" y1="387.8" x2="1765.7" y2="387.8" stroke="#ebebeb" stroke-width="1.6"/>
<line x1="1339.5" y1="240.8" x2="1765.7" y2="240.8" stroke="#ebebeb" stroke-width="1.6"/>
<line x1="1339.5" y1="93.8" x2="1765.7" y2="93.8" stroke="#ebebeb" stroke-width="1.6"/>
<line x1="1339.5" y1="755.3" x2="1765.7" y2="755.3" stroke="#ebebeb" stroke-width="3"/>
<line x1="1339.5" y1="461.3" x2="1765.7" y2="461.3" stroke="#ebebeb" stroke-width="3"/>
<line x1="1339.5" y1="314.3" x2="1765.7" y2="314.3" stroke="#ebebeb" stroke-width="3"/>
<line x1="1339.5" y1="167.3" x2="1765.7" y2="167.3" stroke="#ebebeb" stroke-width="3"/>
<line x1="1454.8" y1="63.5" x2="1454.8" y2="785.4" stroke="#ebebeb" stroke-width="3"/>
<line x1="1650.3" y1="63.5" x2="1650.3" y2="785.4" stroke="#ebebeb" stroke-width="3"/>
<line x1="1337.5" y1="608.3" x2="1767.7" y2="608.3" stroke="#bebebe" stroke-width="6.5"/>
<path d="M1454.9,433.1C1455,433.7 1455.2,435 1455.3,436.5C1455.5,438 1455.6,440.4 1456,442.3C1456.4,444.2 1456.9,446.1 1457.5,448C1458.1,449.9 1458.9,451.9 1459.8,453.8C1460.7,455.7 1461.8,457.7 1462.7,459.6C1463.6,461.5 1464.5,463.4 1465.3,465.3C1466.1,467.2 1467,469.2 1467.7,471.1C1468.4,473 1469,474.9 1469.6,476.8C1470.1,478.7 1470.5,480.7 1471,482.6C1471.5,484.5 1472.1,486.5 1472.5,488.4C1472.9,490.3 1473.2,492.2 1473.6,494.1C1474,496 1474.4,498 1474.8,499.9C1475.2,501.8 1475.5,503.7 1475.9,505.6C1476.3,507.5 1476.8,509.5 1477.1,511.4C1477.4,513.3 1477.7,515.1 1478,517.2C1478.3,519.3 1478.8,522.1 1479.1,524.1C1479.4,526.1 1479.6,527.6 1479.8,529C1480,530.4 1480,531.2 1480.3,532.3C1480.6,533.4 1481.2,534.8 1481.8,535.7C1482.4,536.7 1482.8,537 1484.1,538C1485.3,539 1487.1,540.3 1489.3,541.5C1491.5,542.7 1494,543.6 1497.3,545C1500.6,546.4 1504.7,547.9 1508.9,549.6C1513.1,551.3 1518.3,553.4 1522.7,555.3C1527.1,557.2 1532.3,559.6 1535.4,561.1C1538.5,562.6 1539.8,563.4 1541.1,564.5C1542.4,565.6 1543.2,566.8 1543.2,568C1543.2,569.2 1542.4,570.4 1541.1,571.5C1539.8,572.6 1537.9,573.6 1535.4,574.9C1532.9,576.2 1529.4,578 1526.1,579.5C1522.8,581 1519.6,582.4 1515.8,584.1C1512,585.8 1507.3,588 1503.1,589.9C1498.9,591.8 1494.2,593.7 1490.4,595.6C1486.6,597.5 1483,599.5 1480.1,601.4C1477.2,603.3 1474.8,605.7 1473.1,607.2C1471.3,608.7 1471.1,609 1469.6,610.5C1468,612 1465.5,614.3 1463.8,616.3C1462.1,618.3 1460.5,620.6 1459.4,622.7C1458.3,624.8 1457.6,626.9 1457.4,629C1457.2,631.1 1457.7,633.2 1458.4,635.3C1459.1,637.4 1460.5,639.6 1461.6,641.7C1462.6,643.8 1463.7,645.9 1464.7,648C1465.7,650.1 1466.6,652.3 1467.4,654.4C1468.1,656.5 1468.8,658.6 1469.2,660.7C1469.6,662.8 1469.7,664.9 1469.7,667C1469.7,669.1 1469.4,671.3 1469,673.4C1468.6,675.5 1467.9,677.6 1467.1,679.7C1466.2,681.8 1465,683.9 1463.9,686C1462.8,688.1 1461.6,690.3 1460.5,692.4C1459.4,694.5 1457.9,696.6 1457.1,698.7C1456.3,700.8 1456,703 1455.7,705.1C1455.4,707.2 1455.3,709.3 1455.2,711.4C1455.1,713.5 1454.9,716.7 1454.9,717.7L1454.3,717.7C1454.2,716.7 1454.1,713.5 1454,711.4C1453.9,709.3 1453.8,707.2 1453.5,705.1C1453.2,703 1452.9,700.8 1452.1,698.7C1451.3,696.6 1449.8,694.5 1448.7,692.4C1447.6,690.3 1446.4,688.1 1445.3,686C1444.2,683.9 1442.9,681.8 1442.1,679.7C1441.2,677.6 1440.6,675.5 1440.2,673.4C1439.8,671.3 1439.5,669.1 1439.5,667C1439.5,664.9 1439.6,662.8 1440,660.7C1440.4,658.6 1441,656.5 1441.8,654.4C1442.5,652.3 1443.5,650.1 1444.5,648C1445.5,645.9 1446.5,643.8 1447.6,641.7C1448.6,639.6 1450.1,637.4 1450.8,635.3C1451.5,633.2 1452,631.1 1451.8,629C1451.6,626.9 1450.9,624.8 1449.8,622.7C1448.7,620.6 1447.1,618.3 1445.4,616.3C1443.7,614.3 1441.1,612 1439.6,610.5C1438,609 1437.8,608.7 1436.1,607.2C1434.3,605.7 1432,603.3 1429.1,601.4C1426.2,599.5 1422.6,597.5 1418.8,595.6C1415,593.7 1410.3,591.8 1406.1,589.9C1401.9,588 1397.2,585.8 1393.4,584.1C1389.6,582.4 1386.4,581 1383.1,579.5C1379.8,578 1376.3,576.2 1373.8,574.9C1371.3,573.6 1369.4,572.6 1368.1,571.5C1366.8,570.4 1366,569.2 1366,568C1366,566.8 1366.8,565.6 1368.1,564.5C1369.4,563.4 1370.7,562.6 1373.8,561.1C1376.9,559.6 1382.1,557.2 1386.5,555.3C1390.9,553.4 1396.1,551.3 1400.3,549.6C1404.5,547.9 1408.6,546.4 1411.9,545C1415.2,543.6 1417.7,542.7 1419.9,541.5C1422.1,540.3 1423.8,539 1425.1,538C1426.3,537 1426.8,536.7 1427.4,535.7C1428,534.8 1428.6,533.4 1428.9,532.3C1429.2,531.2 1429.2,530.4 1429.4,529C1429.6,527.6 1429.8,526.1 1430.1,524.1C1430.4,522.1 1430.9,519.3 1431.2,517.2C1431.5,515.1 1431.8,513.3 1432.1,511.4C1432.4,509.5 1432.9,507.5 1433.3,505.6C1433.7,503.7 1434,501.8 1434.4,499.9C1434.8,498 1435.2,496 1435.6,494.1C1436,492.2 1436.3,490.3 1436.7,488.4C1437.1,486.5 1437.7,484.5 1438.2,482.6C1438.7,480.7 1439,478.7 1439.6,476.8C1440.1,474.9 1440.8,473 1441.5,471.1C1442.2,469.2 1443.1,467.2 1443.9,465.3C1444.7,463.4 1445.6,461.5 1446.5,459.6C1447.4,457.7 1448.5,455.7 1449.4,453.8C1450.3,451.9 1451.1,449.9 1451.7,448C1452.3,446.1 1452.8,444.2 1453.2,442.3C1453.6,440.4 1453.7,438 1453.8,436.5C1454,435 1454.2,433.7 1454.3,433.1Z" fill="#1f6db4" fill-opacity="0.5" stroke="#262626" stroke-width="3.0" stroke-linejoin="round"/>
<path d="M1651.1,97.3C1651.2,100.2 1651.4,109.8 1651.5,114.6C1651.7,119.4 1651.8,122.3 1652.1,126.1C1652.4,129.9 1652.8,133.8 1653.2,137.6C1653.6,141.4 1654,145.4 1654.5,149.1C1655,152.8 1655.8,156.3 1656.5,160C1657.2,163.7 1657.9,167.7 1658.4,171.5C1658.9,175.3 1659.2,179.2 1659.4,183C1659.6,186.8 1659.7,190.8 1659.6,194.6C1659.5,198.4 1659.1,202.3 1658.7,206.1C1658.3,209.9 1657.8,213.8 1657.3,217.6C1656.8,221.4 1656.3,225.2 1655.8,229.1C1655.3,233 1654.7,237 1654.3,241C1653.9,245 1653.6,250 1653.5,253C1653.4,256 1653.5,256.9 1653.6,258.8C1653.7,260.7 1654,262.7 1654.3,264.6C1654.6,266.5 1654.9,268.4 1655.4,270.3C1655.8,272.2 1656.5,274.2 1657,276.1C1657.5,278 1658.1,279.9 1658.5,281.8C1658.9,283.7 1659.2,285.7 1659.6,287.6C1660,289.5 1660.5,291.5 1660.8,293.4C1661.1,295.3 1661.1,296.2 1661.3,299.1C1661.5,302 1661.7,306.8 1661.7,310.6C1661.7,314.5 1661.6,318.7 1661.4,322.2C1661.1,325.7 1660.3,328 1660.2,331.5C1660.1,335 1660.2,340.1 1660.5,343C1660.8,345.9 1661.1,346.9 1661.7,348.8C1662.3,350.7 1663,352.7 1663.9,354.6C1664.7,356.5 1665.8,358.4 1666.8,360.3C1667.8,362.2 1668.9,364.2 1670,366.1C1671.1,368 1672.2,369.9 1673.4,371.8C1674.6,373.7 1675.8,375.7 1677,377.6C1678.2,379.5 1679.5,381.5 1680.6,383.4C1681.7,385.3 1682.6,387.2 1683.6,389.1C1684.5,391 1685.5,393 1686.3,394.9C1687.1,396.8 1687.8,398.7 1688.4,400.6C1689,402.5 1689.3,404.5 1689.7,406.4C1690.1,408.3 1690.3,410.6 1690.5,412.2C1690.7,413.8 1690.8,414.4 1690.7,416C1690.6,417.6 1690.4,419.6 1689.9,421.5C1689.4,423.4 1688.6,425.4 1687.9,427.3C1687.1,429.2 1686.2,431.1 1685.4,433C1684.6,434.9 1683.7,436.9 1682.9,438.8C1682.1,440.7 1681.3,442.7 1680.4,444.6C1679.5,446.5 1678.5,448.4 1677.7,450.3C1676.9,452.2 1676.2,454.2 1675.4,456.1C1674.6,458 1673.8,459.9 1673,461.8C1672.2,463.7 1671.6,465.7 1670.8,467.6C1670,469.5 1669,471.5 1668.1,473.4C1667.2,475.3 1666.3,477.2 1665.5,479.1C1664.7,481 1664.1,483 1663.5,484.9C1662.9,486.8 1662.2,488.7 1661.7,490.6C1661.2,492.5 1660.8,494.5 1660.5,496.4C1660.2,498.3 1659.9,500.1 1659.6,502.2C1659.3,504.3 1659.1,506.8 1658.9,509.1C1658.7,511.5 1658.5,513.2 1658.3,516.3C1658.1,519.4 1658,523.8 1657.9,527.8C1657.8,531.8 1657.8,535.3 1657.8,540C1657.8,544.7 1657.9,550.7 1657.9,556.1C1657.9,561.5 1658,566.9 1657.7,572.3C1657.5,577.7 1656.9,583 1656.4,588.4C1655.9,593.8 1655.2,599.1 1654.6,604.5C1654,609.9 1653.3,615.2 1652.8,620.6C1652.3,626 1652,631.4 1651.8,636.8C1651.5,642.2 1651.4,649.1 1651.3,652.9C1651.2,656.7 1651.1,658.3 1651.1,659.4L1650.5,659.4C1650.5,658.3 1650.4,656.7 1650.3,652.9C1650.2,649.1 1650,642.2 1649.8,636.8C1649.5,631.4 1649.3,626 1648.8,620.6C1648.3,615.2 1647.6,609.9 1647,604.5C1646.4,599.1 1645.7,593.8 1645.2,588.4C1644.7,583 1644.1,577.7 1643.9,572.3C1643.6,566.9 1643.7,561.5 1643.7,556.1C1643.7,550.7 1643.8,544.7 1643.8,540C1643.8,535.3 1643.8,531.8 1643.7,527.8C1643.6,523.8 1643.5,519.4 1643.3,516.3C1643.1,513.2 1642.9,511.5 1642.7,509.1C1642.5,506.8 1642.3,504.3 1642,502.2C1641.7,500.1 1641.4,498.3 1641.1,496.4C1640.8,494.5 1640.4,492.5 1639.9,490.6C1639.4,488.7 1638.7,486.8 1638.1,484.9C1637.5,483 1636.9,481 1636.1,479.1C1635.3,477.2 1634.4,475.3 1633.5,473.4C1632.6,471.5 1631.6,469.5 1630.8,467.6C1630,465.7 1629.4,463.7 1628.6,461.8C1627.8,459.9 1627,458 1626.2,456.1C1625.4,454.2 1624.7,452.2 1623.9,450.3C1623.1,448.4 1622.1,446.5 1621.2,444.6C1620.3,442.7 1619.5,440.7 1618.7,438.8C1617.9,436.9 1617,434.9 1616.2,433C1615.4,431.1 1614.5,429.2 1613.7,427.3C1613,425.4 1612.2,423.4 1611.7,421.5C1611.2,419.6 1611,417.6 1610.9,416C1610.8,414.4 1610.9,413.8 1611.1,412.2C1611.3,410.6 1611.5,408.3 1611.9,406.4C1612.2,404.5 1612.6,402.5 1613.2,400.6C1613.8,398.7 1614.5,396.8 1615.3,394.9C1616.1,393 1617,391 1618,389.1C1619,387.2 1619.9,385.3 1621,383.4C1622.1,381.5 1623.4,379.5 1624.6,377.6C1625.8,375.7 1627,373.7 1628.2,371.8C1629.4,369.9 1630.5,368 1631.6,366.1C1632.7,364.2 1633.8,362.2 1634.8,360.3C1635.8,358.4 1636.9,356.5 1637.7,354.6C1638.5,352.7 1639.3,350.7 1639.9,348.8C1640.5,346.9 1640.8,345.9 1641.1,343C1641.3,340.1 1641.5,335 1641.4,331.5C1641.2,328 1640.5,325.7 1640.2,322.2C1640,318.7 1639.9,314.5 1639.9,310.6C1639.9,306.8 1640.1,302 1640.3,299.1C1640.5,296.2 1640.5,295.3 1640.8,293.4C1641.1,291.5 1641.6,289.5 1642,287.6C1642.4,285.7 1642.7,283.7 1643.1,281.8C1643.5,279.9 1644.1,278 1644.6,276.1C1645.1,274.2 1645.8,272.2 1646.2,270.3C1646.7,268.4 1647,266.5 1647.3,264.6C1647.6,262.7 1647.9,260.7 1648,258.8C1648.1,256.9 1648.2,256 1648.1,253C1648,250 1647.7,245 1647.3,241C1646.9,237 1646.3,233 1645.8,229.1C1645.3,225.2 1644.8,221.4 1644.3,217.6C1643.8,213.8 1643.3,209.9 1642.9,206.1C1642.5,202.3 1642.1,198.4 1642,194.6C1641.9,190.8 1642,186.8 1642.2,183C1642.4,179.2 1642.7,175.3 1643.2,171.5C1643.7,167.7 1644.4,163.7 1645.1,160C1645.8,156.3 1646.5,152.8 1647.1,149.1C1647.6,145.4 1648,141.4 1648.4,137.6C1648.8,133.8 1649.2,129.9 1649.5,126.1C1649.8,122.3 1649.9,119.4 1650,114.6C1650.2,109.8 1650.4,100.2 1650.5,97.3Z" fill="#b85c08" fill-opacity="0.5" stroke="#262626" stroke-width="3.0" stroke-linejoin="round"/>
<circle cx="1454.5" cy="472.3" r="7.35" fill="#000"/>
<circle cx="1447.9" cy="493.7" r="7.35" fill="#000"/>
<circle cx="1460.5" cy="507.1" r="7.35" fill="#000"/>
<circle cx="1452.9" cy="524.8" r="7.35" fill="#000"/>
<circle cx="1458.2" cy="531.1" r="7.35" fill="#000"/>
<circle cx="1420.2" cy="567.4" r="7.35" fill="#000"/>
<circle cx="1435.9" cy="558" r="7.35" fill="#000"/>
<circle cx="1441.4" cy="560.5" r="7.35" fill="#000"/>
<circle cx="1445.6" cy="570.9" r="7.35" fill="#000"/>
<circle cx="1435.9" cy="577.8" r="7.35" fill="#000"/>
<circle cx="1459.4" cy="562.6" r="7.35" fill="#000"/>
<circle cx="1463.5" cy="571.3" r="7.35" fill="#000"/>
<circle cx="1464.4" cy="581" r="7.35" fill="#000"/>
<circle cx="1474.3" cy="559.1" r="7.35" fill="#000"/>
<circle cx="1484.1" cy="567.6" r="7.35" fill="#000"/>
<circle cx="1449.2" cy="595.3" r="7.35" fill="#000"/>
<circle cx="1454.5" cy="604.1" r="7.35" fill="#000"/>
<circle cx="1434.6" cy="657.5" r="6.0" fill="#fff" stroke="#000" stroke-width="2.0"/>
<circle cx="1454.5" cy="677.9" r="6.0" fill="#fff" stroke="#000" stroke-width="2.0"/>
<circle cx="1646.8" cy="173.1" r="7.35" fill="#000"/>
<circle cx="1651.4" cy="210.6" r="7.35" fill="#000"/>
<circle cx="1636.4" cy="302.6" r="7.35" fill="#000"/>
<circle cx="1664.1" cy="314.1" r="7.35" fill="#000"/>
<circle cx="1648.4" cy="375.7" r="7.35" fill="#000"/>
<circle cx="1627.6" cy="392.3" r="7.35" fill="#000"/>
<circle cx="1663.6" cy="388" r="7.35" fill="#000"/>
<circle cx="1636.4" cy="404.1" r="7.35" fill="#000"/>
<circle cx="1675.6" cy="401.8" r="7.35" fill="#000"/>
<circle cx="1655.3" cy="414.4" r="7.35" fill="#000"/>
<circle cx="1619.8" cy="425.7" r="7.35" fill="#000"/>
<circle cx="1642.2" cy="435.6" r="7.35" fill="#000"/>
<circle cx="1676.7" cy="435" r="7.35" fill="#000"/>
<circle cx="1657.6" cy="448.8" r="7.35" fill="#000"/>
<circle cx="1638" cy="463.8" r="7.35" fill="#000"/>
<circle cx="1656.7" cy="485.2" r="7.35" fill="#000"/>
<circle cx="1646.3" cy="536.6" r="7.35" fill="#000"/>
<circle cx="1650.5" cy="583.5" r="7.35" fill="#000"/>
<rect x="1337.5" y="61.5" width="430.2" height="725.9" fill="none" stroke="#333333" stroke-width="1.7"/>
<line x1="1328.5" y1="755.3" x2="1337.5" y2="755.3" stroke="#333333" stroke-width="2.6"/>
<text transform="translate(1320.6,765.9) scale(1,1.045)" font-size="27.6" fill="#3f3f3f" text-anchor="end">-10</text>
<line x1="1328.5" y1="608.3" x2="1337.5" y2="608.3" stroke="#333333" stroke-width="2.6"/>
<text transform="translate(1320.6,618.9) scale(1,1.045)" font-size="27.6" fill="#3f3f3f" text-anchor="end">0</text>
<line x1="1328.5" y1="461.3" x2="1337.5" y2="461.3" stroke="#333333" stroke-width="2.6"/>
<text transform="translate(1320.6,471.9) scale(1,1.045)" font-size="27.6" fill="#3f3f3f" text-anchor="end">10</text>
<line x1="1328.5" y1="314.3" x2="1337.5" y2="314.3" stroke="#333333" stroke-width="2.6"/>
<text transform="translate(1320.6,324.9) scale(1,1.045)" font-size="27.6" fill="#3f3f3f" text-anchor="end">20</text>
<line x1="1328.5" y1="167.3" x2="1337.5" y2="167.3" stroke="#333333" stroke-width="2.6"/>
<text transform="translate(1320.6,177.9) scale(1,1.045)" font-size="27.6" fill="#3f3f3f" text-anchor="end">30</text>
<line x1="1454.8" y1="787.4" x2="1454.8" y2="796.4" stroke="#333333" stroke-width="2.6"/>
<text transform="translate(1453.8,823.8) scale(1,1.045)" font-size="27.6" fill="#3f3f3f" text-anchor="middle" textLength="97.9" lengthAdjust="spacingAndGlyphs">Hypoxia</text>
<line x1="1650.3" y1="787.4" x2="1650.3" y2="796.4" stroke="#333333" stroke-width="2.6"/>
<text transform="translate(1650,823.8) scale(1,1.045)" font-size="27.6" fill="#3f3f3f" text-anchor="middle" textLength="153.6" lengthAdjust="spacingAndGlyphs">Hypercapnia</text>
<text transform="translate(1552.6,862) scale(1,1.045)" font-size="33.6" fill="#000" text-anchor="middle" textLength="132.7" lengthAdjust="spacingAndGlyphs">Stimulus</text>
<text transform="translate(1228.4,425.9) rotate(-90) scale(1,1.045)" font-size="33.6" fill="#000" text-anchor="middle"><tspan x="1.2" y="0" textLength="117.8" lengthAdjust="spacingAndGlyphs">Δ nCBF</tspan><tspan x="1.7" y="35.8" textLength="221.7" lengthAdjust="spacingAndGlyphs">(mL/100g/min)</tspan></text>
<text transform="translate(1552.6,35.6) scale(1,1.045)" font-size="41" fill="#000" text-anchor="middle">Session 3</text>
</svg></body></html>
